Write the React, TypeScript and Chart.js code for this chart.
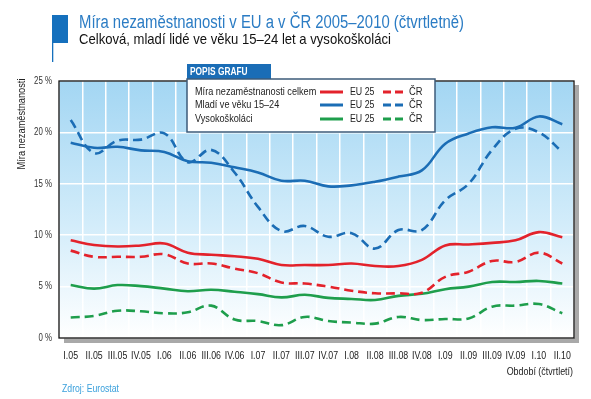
import React, { useEffect, useRef } from "react";
import { Chart, registerables } from "chart.js";

Chart.register(...registerables);

const periods = [
  "I.05", "II.05", "III.05", "IV.05", "I.06", "II.06", "III.06", "IV.06",
  "I.07", "II.07", "III.07", "IV.07", "I.08", "II.08", "III.08", "IV.08",
  "I.09", "II.09", "III.09", "IV.09", "I.10", "II.10",
];

const totalEU = [9.5, 9.05, 8.9, 9.0, 9.2, 8.3, 8.1, 7.95, 7.7, 7.1, 7.1, 7.1, 7.25, 7.0, 7.0, 7.6, 9.0, 9.1, 9.25, 9.5, 10.3, 9.8];
const totalCR = [8.5, 7.9, 7.9, 7.9, 8.15, 7.25, 7.25, 6.75, 6.3, 5.4, 5.3, 5.0, 4.6, 4.35, 4.35, 4.4, 5.95, 6.45, 7.5, 7.4, 8.3, 7.25];
const youthEU = [19.0, 18.5, 18.6, 18.25, 18.1, 17.2, 17.05, 16.6, 16.1, 15.3, 15.3, 14.75, 14.85, 15.2, 15.7, 16.3, 18.9, 19.9, 20.5, 20.45, 21.55, 20.8];
const youthCR = [21.2, 18.0, 19.2, 19.3, 19.9, 17.1, 18.3, 16.1, 12.75, 10.4, 10.9, 9.85, 10.2, 8.7, 10.5, 10.5, 13.4, 15.0, 18.3, 20.35, 20.0, 18.1];
const gradEU = [5.15, 4.8, 5.15, 5.05, 4.8, 4.55, 4.7, 4.5, 4.27, 3.95, 4.2, 3.9, 3.8, 3.7, 4.1, 4.3, 4.75, 5.0, 5.45, 5.45, 5.55, 5.3];
const gradCR = [2.0, 2.15, 2.65, 2.6, 2.4, 2.5, 3.15, 1.8, 1.65, 1.25, 2.05, 1.65, 1.5, 1.4, 2.05, 1.75, 1.85, 1.9, 3.05, 3.15, 3.3, 2.4];

const legendRows = ["Míra nezaměstnanosti celkem", "Mladí ve věku 15–24", "Vysokoškoláci"];
const title = "Míra nezaměstnanosti v EU a v ČR 2005–2010 (čtvrtletně)";
const subtitle = "Celková, mladí lidé ve věku 15–24 let a vysokoškoláci";

const RED = "#e3222b";
const BLUE = "#1b6db5";
const GREEN = "#1e9e4c";
const FONT = "'Liberation Sans', Arial, sans-serif";

// draw horizontally condensed text (factor k of natural width)
function ctext(ctx: CanvasRenderingContext2D, text: string, x: number, y: number, k = 0.8) {
  const w = ctx.measureText(text).width;
  ctx.fillText(text, x, y, w * k);
}

const decor = {
  id: "decor",
  beforeDraw(chart: any) {
    const { ctx, chartArea: a } = chart;
    ctx.save();
    ctx.fillStyle = "#a9a9a9";
    ctx.fillRect(a.left + 5, a.top + 4, a.right - a.left, a.bottom - a.top + 1);
    const g = ctx.createLinearGradient(0, a.top, 0, a.bottom);
    g.addColorStop(0, "#a3d6f3");
    g.addColorStop(0.55, "#d2ecfa");
    g.addColorStop(1, "#ffffff");
    ctx.fillStyle = g;
    ctx.fillRect(a.left, a.top, a.right - a.left, a.bottom - a.top);
    ctx.restore();
  },
  beforeDatasetsDraw(chart: any) {
    const { ctx, chartArea: a } = chart;
    ctx.save();
    ctx.strokeStyle = "#111";
    ctx.lineWidth = 1.3;
    ctx.strokeRect(a.left, a.top, a.right - a.left, a.bottom - a.top);
    ctx.restore();
  },
  afterDraw(chart: any) {
    const { ctx, chartArea: a } = chart;
    const xs = chart.scales.x;
    const ys = chart.scales.y;
    ctx.save();

    // axis tick labels (condensed)
    ctx.fillStyle = "#222";
    ctx.font = `11px ${FONT}`;
    ctx.textAlign = "center";
    ctx.textBaseline = "middle";
    periods.forEach((p, i) => {
      ctext(ctx, p, xs.getPixelForTick(i), a.bottom + 18, 0.8);
    });
    ctx.fillStyle = "#333";
    ctx.font = `10.5px ${FONT}`;
    ctx.textAlign = "right";
    ys.ticks.forEach((t: any) => {
      ctext(ctx, `${t.value} %`, a.left - 7, ys.getPixelForValue(t.value), 0.75);
    });

    // title block
    ctx.fillStyle = "#1570bd";
    ctx.fillRect(52, 15, 16, 28);
    ctx.fillRect(52, 15, 1.3, 47);
    ctx.textBaseline = "alphabetic";
    ctx.textAlign = "left";
    ctx.fillStyle = "#2b7cc4";
    ctx.font = `18px ${FONT}`;
    ctx.fillText(title, 79, 27.5, 385);
    ctx.fillStyle = "#111";
    ctx.font = `15px ${FONT}`;
    ctx.fillText(subtitle, 79, 43.5, 312);

    // y axis title
    ctx.save();
    ctx.translate(22, 124);
    ctx.rotate(-Math.PI / 2);
    ctx.textAlign = "center";
    ctx.textBaseline = "middle";
    ctx.fillStyle = "#222";
    ctx.font = `11px ${FONT}`;
    ctext(ctx, "Míra nezaměstnanosti", 0, 0, 0.84);
    ctx.restore();

    // x axis title
    ctx.textAlign = "right";
    ctx.textBaseline = "middle";
    ctx.fillStyle = "#222";
    ctx.font = `11px ${FONT}`;
    ctext(ctx, "Období (čtvrtletí)", 573, 372, 0.81);

    // source
    ctx.textAlign = "left";
    ctx.fillStyle = "#3aa0dc";
    ctx.font = `11px ${FONT}`;
    ctext(ctx, "Zdroj: Eurostat", 62, 389, 0.79);

    // legend
    ctx.fillStyle = "#1a6db6";
    ctx.fillRect(187, 64, 84, 15);
    ctx.fillStyle = "#fff";
    ctx.font = `bold 11px ${FONT}`;
    ctx.textAlign = "left";
    ctext(ctx, "POPIS GRAFU", 190, 71.5, 0.76);
    ctx.fillStyle = "#fff";
    ctx.fillRect(187, 79, 248, 53);
    ctx.strokeStyle = "#3d5b7a";
    ctx.lineWidth = 1.5;
    ctx.strokeRect(187, 79, 248, 53);
    const rowsY = [92, 105, 119];
    const cols = [RED, BLUE, GREEN];
    ctx.font = `11px ${FONT}`;
    rowsY.forEach((y, i) => {
      ctx.fillStyle = "#222";
      ctx.textAlign = "left";
      ctext(ctx, legendRows[i], 195, y, 0.83);
      ctext(ctx, "EU 25", 350, y, 0.8);
      ctext(ctx, "ČR", 409, y, 0.85);
      ctx.strokeStyle = cols[i];
      ctx.lineWidth = 3;
      ctx.setLineDash([]);
      ctx.beginPath();
      ctx.moveTo(320, y);
      ctx.lineTo(343, y);
      ctx.stroke();
      ctx.setLineDash([8, 4]);
      ctx.beginPath();
      ctx.moveTo(383, y);
      ctx.lineTo(403, y);
      ctx.stroke();
    });
    ctx.restore();
  },
};

export default function App() {
  const ref = useRef<HTMLCanvasElement>(null);
  useEffect(() => {
    document.body.style.margin = "0";
    const mk = (label: string, data: number[], color: string, dashed: boolean) => ({
      label,
      data,
      borderColor: color,
      backgroundColor: color,
      borderWidth: 2.6,
      borderDash: dashed ? [9, 5] : [],
      pointRadius: 0,
      tension: 0.4,
      fill: false,
    });
    const chart = new Chart(ref.current as HTMLCanvasElement, {
      type: "line",
      data: {
        labels: periods,
        datasets: [
          mk("Celkem EU 25", totalEU, RED, false),
          mk("Celkem ČR", totalCR, RED, true),
          mk("Mladí EU 25", youthEU, BLUE, false),
          mk("Mladí ČR", youthCR, BLUE, true),
          mk("Vysokoškoláci EU 25", gradEU, GREEN, false),
          mk("Vysokoškoláci ČR", gradCR, GREEN, true),
        ],
      },
      options: {
        responsive: false,
        animation: false,
        layout: { padding: { left: 0, top: 81, right: 17, bottom: 31 } },
        plugins: { legend: { display: false }, tooltip: { enabled: false }, title: { display: false } },
        scales: {
          x: {
            offset: true,
            grid: { color: "#ffffff", lineWidth: 1.5, drawTicks: false, offset: true },
            border: { display: false },
            ticks: { display: false, autoSkip: false },
            afterFit: (s: any) => { s.height = 30; },
          },
          y: {
            min: 0,
            max: 25,
            grid: { color: "#ffffff", lineWidth: 1.5, drawTicks: false },
            border: { display: false },
            ticks: { display: false, stepSize: 5 },
            afterFit: (s: any) => { s.width = 59; },
          },
        },
      },
      plugins: [decor],
    });
    return () => chart.destroy();
  }, []);
  return (
    <div style={{ position: "fixed", left: 0, top: 0, width: 591, height: 399, background: "#fff" }}>
      <canvas ref={ref} width={591} height={399} />
    </div>
  );
}
